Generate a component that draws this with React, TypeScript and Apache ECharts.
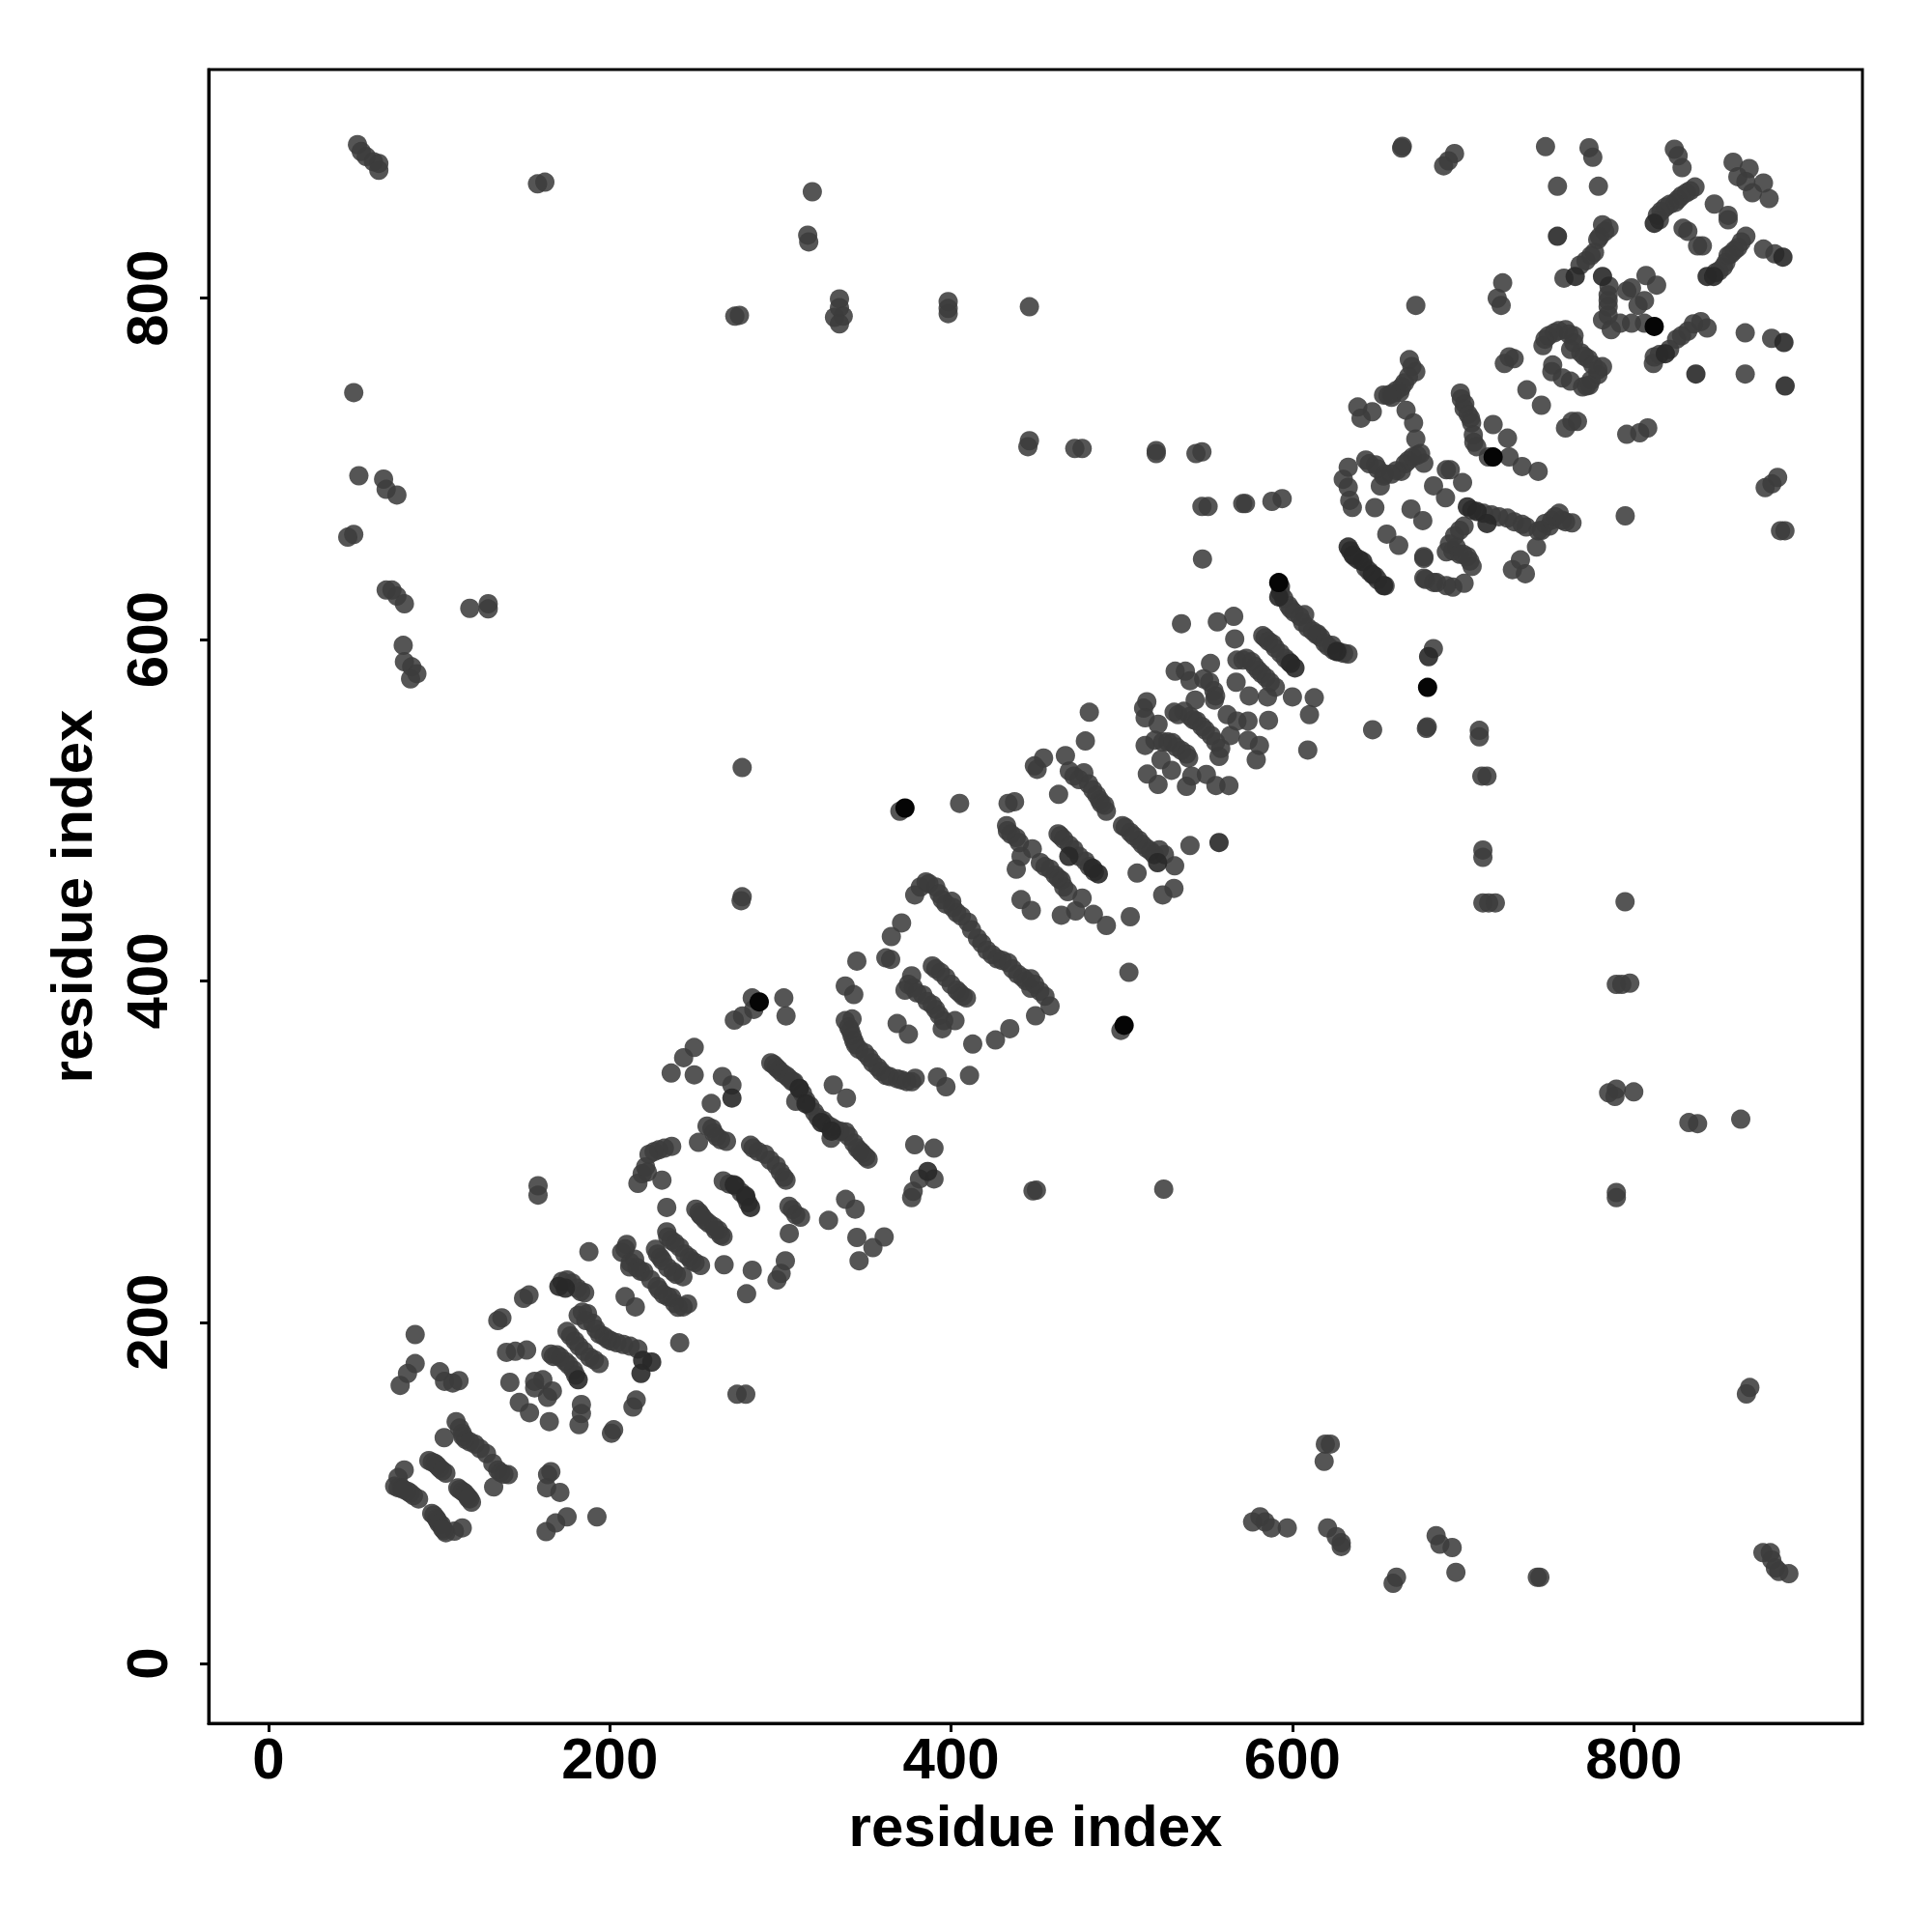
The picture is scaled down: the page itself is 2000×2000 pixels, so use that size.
import React, { useEffect, useRef } from "react";
import * as echarts from "echarts";

const tickValues = [0, 200, 400, 600, 800];
const axisTitle = "residue index";

const farUpperLeft = [[52.2,890],[54.4,886],[57.3,883],[61.6,880],[64.7,879],[64.7,875],[157.7,867],[162,868],[318.7,862.4],[316,837],[316.6,833],[334.6,799.6],[334.6,794.5],[336.8,789.5],[331.7,788.8],[334.6,785],[273.3,789.5],[276,790],[398.3,798],[398.3,794],[398.3,791],[445.9,795],[50,744.7],[53,696],[67.5,694],[69,688],[75.3,684.7],[50,661.6],[46.5,660],[69,629],[72.4,629],[75.3,625.5],[79.7,621],[118,618.3],[128.8,621],[128.8,618],[79,596.6],[79.7,587],[84,584],[87,580],[83.3,577],[445.9,716.5],[445,713],[472.5,712],[476.8,712],[520.2,710.7],[520.2,709],[543.5,709],[547,710],[547,678],[550.6,678],[570.9,679.7],[572.5,679.7],[588,681],[594,682.6],[277.6,525],[277.6,449.3],[277,447],[664.4,889],[664,888],[688.6,877.6],[691.4,880.5],[695,884.8]];

const farLowerRight = [[709.5,546.8],[709.5,543],[711,520],[714,520],[711.6,476.7],[711.6,472.4],[711.6,445.7],[715,445.7],[718.9,445.7],[794.9,446.4],[789.8,398],[793,398],[797.7,398.7],[785.3,334.4],[789.8,336.6],[789,332.3],[800,335],[832.3,317],[837.4,316.4],[862.7,319],[789.8,276],[789.8,273],[450,277.4],[448,277],[524.6,278],[868,161.8],[866,158],[619.3,128.6],[622.2,128.6],[618.6,118.5],[576.7,83],[581,86],[584,83],[587.7,79.5],[597,79.5],[620.6,79.5],[625.7,74.4],[628.6,70.8],[628.6,68.6],[661,50.6],[659,47],[684.2,75],[686.4,70],[693.6,68],[695.8,53.5],[743.5,50.6],[745,50.6],[875.7,65],[880,65],[880.9,60.7],[883,56],[885,54],[890.9,52.7],[877,689],[881,691.3],[884.3,695],[888.6,663.8],[886,663.8]];

const lowerLeftBand = [[158,280],[158,274.5],[79.6,113.5],[76,109],[74,104],[78,103],[81.5,101],[85,98.4],[88,96.5],[94,119],[97.6,117.3],[100.4,114.4],[104,111.6],[111,103],[113.6,101],[116.4,98.4],[119,94.6],[95.7,88],[98.5,85],[101.3,81.4],[104,76.7],[109,77.6],[113.6,79.5],[110,141.8],[113.6,135],[115.5,131.4],[121,128.6],[127.8,123],[131.5,117.3],[134.4,113.5],[140.6,110.7],[103,132.4],[132,103.5],[165.5,112.5],[163.6,110.7],[163,103],[170.8,100.3],[175,86],[168.3,82.4],[162.7,77.3],[192.5,86],[86,192.8],[86,175.8],[81.5,170],[77.2,163],[100.4,171],[103.2,165.4],[108,164.4],[111.7,165.8],[136.8,202.6],[134.4,201],[152.7,216],[149.5,214],[139.5,182.4],[144.7,183],[151.3,183.7],[141.5,164.8],[156,165.4],[160.8,166.3],[156,161.6],[166.4,159.7],[163.6,156],[147,153],[153,147],[164.6,141.8],[183.4,151.8],[183.4,146.5],[182,140],[202.3,137],[201,135],[215.5,154.4],[213.6,150.3],[274.6,157.8],[279.7,157.8],[241,188],[175,224.8],[185.3,217.3],[181.5,204],[187,205],[190,199.4],[196.6,191.8],[204.2,188],[216.5,184.3],[175,194.6],[179.7,189],[188.2,179.5],[193.8,175.8],[165.5,181.4],[171,179.5],[178.7,172],[209,215],[215,209],[210,245.6],[207,241],[214.6,237],[211.7,232.4],[220,229.6],[227.8,221],[231.5,216.3],[236.3,214.5],[240,208.8],[245.7,210.7],[226.8,242.8],[229.7,238],[233.4,267.3],[233.4,253],[238.2,246.5],[237.2,229.6],[242.9,226.7],[252.3,264.5],[256,259.7],[263.6,254],[266.4,250.3],[246.6,238],[253.2,233.3],[267,233.7],[274,279.6],[279.7,273],[216.5,281.4],[222,288],[230.6,283.3],[187.8,241.3],[266.5,282.8]];

const middleBand = [[371,434],[365,426],[344.8,411.6],[361.8,413.5],[364.6,412.6],[338,397],[343,392],[342,377.7],[338,376.7],[342,368],[344,362.6],[349.5,357.8],[357,349.4],[361.8,344.6],[368.4,342.7],[377,340.9],[379,343],[392,343.7],[397,338],[410.8,344.6],[412.7,363],[426,365.4],[434.4,372],[376.9,403],[373,394.6],[383.5,391.8],[389,408.8],[393.8,405],[403.3,394.6],[409,390],[368.4,375],[375,368.8],[391,383.3],[395.7,376.7],[402.3,376.7],[394.8,372],[283.5,390],[284.4,383.3],[277.8,379.5],[273,377],[302,390],[303.3,379.5],[249.5,361],[243.3,355],[249.5,345],[236,346],[266,344],[271.6,339],[259.5,328.2],[294.4,352],[297.6,349.4],[303.3,344.6],[308,340.9],[311.2,337],[309,329.5],[317.4,326.7],[325,318.2],[329.7,314.4],[329.7,307.8],[338.2,311.6],[343,305],[346.7,300.3],[351.4,295.6],[331,339],[338.7,331.4],[378.7,304],[390,302],[390,284],[381.5,284],[377.8,276.7],[376.9,273],[252,305.4],[259.9,313.5],[262.7,308.8],[268.4,306],[282.5,303.7],[291,298.4],[297.6,291.8],[303.3,283.3],[236.3,303.1],[228.7,301],[223,298.4],[305,268],[311.8,261.6],[305.2,252],[250.4,266.3],[338.2,272],[343.8,266.3],[328.2,259.7],[344.8,249.7],[360.8,250],[354.2,243.7],[346.1,236],[302.9,236],[300.4,228.6],[298,224.8],[283.5,230.5],[280.2,216.7]];

const upperMiddleBand = [[370,499.4],[405,504],[478.7,540.6],[454.2,530.6],[450.4,524],[448.8,526],[467,532],[469.3,523],[477.8,522],[480.6,515.5],[485.3,508.9],[490,503],[491,499.4],[463,509.3],[437.2,505],[433.4,504],[432.5,491],[438.2,484],[447.6,477.4],[462.7,486.2],[469.3,479.6],[478.7,470.2],[500.4,491],[505,487],[510,482.5],[514.6,477.7],[522,476.8],[531,467.4],[509,463.2],[530.6,454.2],[524,450.4],[540,479.3],[441,473],[438.2,465.5],[441,447.6],[447,441.3],[452.3,469.3],[458,465.5],[464.6,458.9],[468.4,452.3],[476.8,448.5],[473,441],[464.6,438.5],[483.4,439],[491,432.5],[505,437.6],[499.5,371],[504.2,405],[385.3,458],[378.7,450.4],[391,455],[394.8,447.6],[400.4,446.6],[403.3,440],[409.9,434.4],[415.5,425],[424,415.4],[433.4,410.7],[439,404],[446.7,401.3],[446.7,395.7],[455,391],[458,385.3],[449.5,379.6]];

const centralBand = [[547.3,647.2],[593,627.8],[597.7,620],[604.3,613.6],[611.8,605],[616.6,601.3],[624,593.8],[632.6,591.5],[535,609.3],[556,610.4],[565.6,613.6],[566.2,600.4],[552,586],[582.6,602.3],[588.3,597.6],[595.8,589],[567.5,588],[576,587],[578,584.4],[584.5,577.8],[590,572.1],[585.4,566.4],[574.7,567],[567,575],[600,566.4],[612.8,565.9],[610,556],[586,552.7],[609,535.3],[647,547.2],[679,548.9],[678.5,548],[682.6,594.7],[531.3,581.5],[537.3,581.5],[540,575.9],[551.5,575],[543,564.6],[554.3,564.6],[514.7,563.6],[512.8,559.8],[513.7,554.2],[530.7,557.4],[536.4,558],[544,552.3],[552.4,543.8],[558,536.2],[557,531.5],[561.8,556],[567.5,552.3],[574,552.3],[563.7,543.8],[574,541],[580.7,538],[578.8,529.6],[521.3,550.4],[519.4,541],[513.7,538],[529.7,539.6],[539.2,530.6],[523,529.6],[529.2,523.4],[515,521.2],[521.3,515.1],[541,520],[549.6,521],[537.9,514],[555.2,514.5],[562.8,514.5],[481,557.4],[654.3,631.5],[648.6,637],[639,646.6],[677,647.6],[678,635.3],[684.5,633.4]];

const upperBand = [[672.3,795.8],[720,800],[607.2,614.6],[614.7,603.3],[623.2,596.7],[795,672.5],[668.5,764],[672.3,757],[665.7,750.5],[662.9,744.8],[653.4,743.3],[658.1,742],[638.3,736.3],[646.8,733.5],[640.2,729.7],[666.6,734.4],[671,727],[672.3,717.5],[675.1,709],[670.4,707],[677,703.3],[663.8,698.6],[653.4,695.8],[648.7,702.4],[643,705.2],[651.5,690],[632.7,701],[629.8,693.9],[632.7,689.2],[633.6,681.6],[635.1,677.4],[648.3,677.3],[669.5,676.5],[676.4,669.7],[682.7,690.1],[689.7,683.1],[690.2,699.5],[692.5,699.5],[699.7,692],[698.4,744.4],[700.6,735.4],[704.4,729.7],[706.3,715.6],[714.8,707],[717.6,726],[726,718],[727,707],[734.6,701.4],[744,698.6],[727,765.6],[724.2,761.8],[729.9,764.6],[737.4,746.3],[745.9,737.3],[763.8,727.8],[767,727.8],[760,724],[795.9,720.3],[808.2,724],[803.5,721.2],[716.6,673.1],[726,671.2],[734.6,667.5],[744,663.7],[743,654.2],[750.6,666.5],[756.3,674],[763.8,668.4],[700.6,666.5],[695,660.8],[690.2,651.4],[696,654.2],[702.5,648.6],[705.3,642.9],[677,648.6],[655.3,661.8],[662.3,655.2],[677,636],[682.7,633.5],[690.2,631.6],[694,630.7],[700.6,633],[733.6,646.7],[728.9,641],[736.5,638.6],[752.5,760.9],[746.8,772.2],[753.4,779.7],[760,781.6],[764.8,774],[773.3,764.6],[781.7,759.9],[779,755.2],[772.3,748.6],[762.9,751.4],[758.2,753.3]];

const topRightBand = [[748.3,888.8],[773.8,888.2],[776,882.6],[755.3,865.6],[779.3,865.6],[823.8,887.3],[826,883.5],[828.3,876.5],[835.9,865.2],[830.8,861.8],[824.2,856.1],[818.5,853.3],[813.8,848.6],[847.2,855.2],[855.3,848.6],[855.3,846],[828.9,841],[831.7,839.2],[840.2,830.7],[837.4,830.7],[858.2,879.7],[867.6,876],[861,871.2],[865.7,868.4],[876,867.5],[869.5,861.8],[879.3,858.4],[865.7,836.3],[861,829.7],[855.3,825],[852.5,818.4],[876,828.8],[882.7,826],[807.2,813.3],[813.4,807.7],[798.7,806.1],[795.9,804.3],[806.3,798.6],[802.5,795.8],[785.5,841],[781.7,843],[778.9,834.4],[777,826.9],[768.5,819.4],[759.1,811.8],[785.5,807.1],[785,798.6],[785,790.1],[781.7,787.3],[786.8,781.6],[792.1,785.4],[798.7,785.4],[806.3,785.4],[811.5,761.8],[812,765.6],[825.1,776],[831.7,780.7],[839.3,786.3],[843,782.6],[865.3,779.7],[880.8,776.5],[865.3,755.6],[723.2,809],[722.3,795.8]];

const lowerStrandExtras = [[76,103],[83,100],[79,102],[96,118],[99,116],[102,113],[112,102],[115,100],[118,96.5],[117,97],[97,87],[99,84],[100,82],[102,79],[103,78],[112,138],[114,133],[118,130],[124,126],[136,112],[138,111],[172,224],[178,223],[181,220],[183,218],[184,206],[186,201],[192,196],[194,193],[199,190],[201,189],[208,187],[212,186],[177,192],[182,186],[185,183],[191,178],[167,180],[169,181],[174,177],[176,175],[180,169],[209,243],[212,235],[216,232],[218,230],[224,225],[229,219],[234,215],[238,211],[243,209],[234,250],[236,248],[241,244],[244,240],[248,236],[250,235],[253,263],[258,258],[261,256],[265,251],[228,240],[231,236],[234,232],[239,228],[270,281],[277,276],[281,270],[226,300],[232,302],[221,291],[219,287],[261,311],[265,307],[257,315],[284,302],[287,300],[294,295],[300,288],[302,285],[254,262],[262,254]];

const middleStrandExtras = [[296,351],[299,348],[301,346],[305,343],[307,341],[313,334],[315,330],[320,323],[322,320],[327,316],[332,313],[335,312],[340,309],[345,302],[348,299],[350,297],[340,373],[341,371],[343,365],[346,360],[352,355],[354,352],[359,347],[364,344],[371,342],[374,341],[389,386],[393,380],[391,407],[397,402],[400,398],[405,393],[407,391],[375,398],[378,396],[380,393],[386,388],[307,266],[309,263],[382,455],[387,457],[393,451],[397,445],[401,443],[406,438],[412,430],[418,422],[421,418],[427,413],[430,412],[436,407],[442,402],[444,400],[449,398],[452,394],[433,488],[435,486],[440,481],[464,485],[466,483],[472,477],[475,473],[481,467],[484,464],[455,467],[461,462],[463,460],[466,455],[472,520],[475,518],[483,512],[487,506],[488,504],[502,490],[507,485],[512,480],[517,476],[519,474],[525,474]];

const upperStrandExtras = [[593,631],[595,624],[599,618],[601,616],[606,610],[609,607],[614,603],[619,598],[621,596],[627,593],[630,592],[584,601],[586,599],[590,595],[593,592],[598,587],[571,588],[573,589],[580,582],[582,580],[587,575],[533,556],[540,555],[542,553],[547,549],[549,547],[555,540],[548,577],[554,570],[555,567],[524,540],[527,540],[532,537],[535,535],[538,533],[634,652],[637,648],[639,647],[643,642],[645,640],[650,635],[645,703],[650,700],[654,697],[658,697],[661,699],[666,703],[668,705],[673,708],[670,760],[668,754],[664,748],[661,746],[658,744],[656,743],[698,664],[692,656],[694,652],[698,650],[700,650],[704,646],[705,676],[712,674],[721,672],[730,669],[737,666],[746,664],[748,668],[752,670],[754,672],[758,670],[760,669],[699,741],[701,738],[703,732],[705,727],[706,720],[708,713],[748,776],[750,778],[756,781],[762,779],[765,778],[763,770],[752,757],[769,768],[771,766],[776,761],[779,758],[775,752],[774,749],[770,748],[815,846],[816,851],[821,855],[826,858],[828,860],[833,863],[848,815],[850,816],[854,821],[857,826],[859,828],[863,833],[772,822],[775,825],[780,836],[783,839],[815,767],[821,770],[828,778],[835,785],[785,802],[785,795]];

const darkContacts = [[224.6,176.7],[219.3,177.7],[218.3,170],[170.2,221],[174,220],[181.5,166.3],[271.6,331.4],[273,280.5],[279.7,274],[282.5,267.3],[311,337],[315,328],[324,317],[330,312],[486.3,462.7],[483,466],[601.5,583.4],[599,586],[521,469.3],[557,481.1],[469,473],[592,625],[626,593],[653.4,631.6],[646.8,638.2],[641.2,645.7],[635.5,649.5],[632.7,654.2],[702.5,677.8],[708.2,675],[714,668],[812,843.9],[843,812.8],[846.8,812.8],[888,774.1],[887.4,824.1],[888.7,748.6],[836.4,755.6],[755.3,836.3],[765.7,812.8],[781.7,812.8],[818.5,767.5],[679.8,590],[386.3,288.4]];

const blackContacts = [[287.6,387.7],[373,501.3],[501.4,374],[592,633.4],[679.2,572],[812,783.5],[717.6,707]];

const App = () => {
  const ref = useRef<HTMLDivElement>(null);
  useEffect(() => {
    document.body.style.margin = "0";
    const chart = echarts.init(ref.current!, null, { renderer: "svg" });
    const font = { fontFamily: "Liberation Sans", fontWeight: "bold" as const, fontSize: 60, color: "#000" };
    const common = {
      type: "value" as const,
      min: -35,
      max: 934,
      name: axisTitle,
      nameLocation: "middle" as const,
      nameTextStyle: font,
      splitLine: { show: false },
      axisLine: { show: true, onZero: false, lineStyle: { color: "#000", width: 3 } },
      axisTick: { show: true, length: 9, customValues: tickValues, lineStyle: { color: "#000", width: 3 } },
    };
    const normal = [
      ...farUpperLeft, ...farLowerRight, ...lowerLeftBand, ...middleBand,
      ...upperMiddleBand, ...centralBand, ...upperBand, ...topRightBand,
      ...lowerStrandExtras, ...middleStrandExtras, ...upperStrandExtras,
    ];
    chart.setOption({
      animation: false,
      grid: { left: 216, top: 72, width: 1712, height: 1712, show: true, borderColor: "#000", borderWidth: 3, backgroundColor: "#fff" },
      xAxis: { ...common, nameGap: 76, axisLabel: { ...font, margin: 6, customValues: tickValues } },
      yAxis: { ...common, nameGap: 112, axisLabel: { ...font, margin: 64, rotate: 90, customValues: tickValues, align: "center", verticalAlign: "middle" } },
      series: [
        { type: "scatter", data: normal, symbolSize: 20, itemStyle: { color: "rgba(60,60,60,0.87)", opacity: 1 } },
        { type: "scatter", data: darkContacts, symbolSize: 20, itemStyle: { color: "rgba(40,40,40,0.9)", opacity: 1 } },
        { type: "scatter", data: blackContacts, symbolSize: 20, itemStyle: { color: "#050505", opacity: 1 } },
      ],
    });
    return () => chart.dispose();
  }, []);
  return <div ref={ref} style={{ width: 2000, height: 2000 }} />;
};

export default App;
